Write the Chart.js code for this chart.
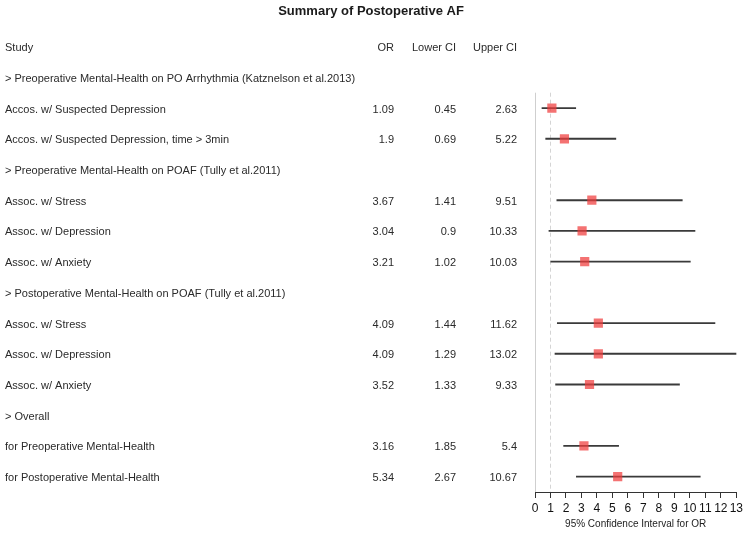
<!DOCTYPE html>
<html>
<head>
<meta charset="utf-8">
<script src="https://cdn.jsdelivr.net/npm/chart.js@4"></script>
<style>
  html, body { margin: 0; padding: 0; background: #fff; }
  #wrap { width: 746px; height: 533px; position: relative; }
</style>
</head>
<body>
<div id="wrap"><canvas id="forestChart"></canvas></div>
<script>
// rows of the forest plot, top to bottom
const studies = [
  '> Preoperative Mental-Health on PO Arrhythmia (Katznelson et al.2013)',
  'Accos. w/ Suspected Depression',
  'Accos. w/ Suspected Depression, time > 3min',
  '> Preoperative Mental-Health on POAF (Tully et al.2011)',
  'Assoc. w/ Stress',
  'Assoc. w/ Depression',
  'Assoc. w/ Anxiety',
  '> Postoperative Mental-Health on POAF (Tully et al.2011)',
  'Assoc. w/ Stress',
  'Assoc. w/ Depression',
  'Assoc. w/ Anxiety',
  '> Overall',
  'for Preoperative Mental-Health',
  'for Postoperative Mental-Health'
];
const oddsRatio = [null, 1.09, 1.9, null, 3.67, 3.04, 3.21, null, 4.09, 4.09, 3.52, null, 3.16, 5.34];
const lowerCI   = [null, 0.45, 0.69, null, 1.41, 0.9, 1.02, null, 1.44, 1.29, 1.33, null, 1.85, 2.67];
const upperCI   = [null, 2.63, 5.22, null, 9.51, 10.33, 10.03, null, 11.62, 13.02, 9.33, null, 5.4, 10.67];
const headers = ['Study', 'OR', 'Lower CI', 'Upper CI'];
const xTicks = [0, 1, 2, 3, 4, 5, 6, 7, 8, 9, 10, 11, 12, 13];

const FONT = '"Liberation Sans", Arial, sans-serif';

// table text + reference lines
const tablePlugin = {
  id: 'tableText',
  beforeDatasetsDraw(chart) {
    const { ctx, scales: { x, y }, chartArea } = chart;
    const step = y.getPixelForValue(1) - y.getPixelForValue(0);
    ctx.save();
    // solid line at 0, dashed at 1
    const top = y.getPixelForValue(0) + step / 2;
    const bottom = chartArea.bottom;
    ctx.lineWidth = 1;
    ctx.strokeStyle = '#cfcfcf';
    ctx.beginPath();
    ctx.moveTo(Math.round(x.getPixelForValue(0)) + 0.5, top);
    ctx.lineTo(Math.round(x.getPixelForValue(0)) + 0.5, bottom);
    ctx.stroke();
    ctx.setLineDash([4, 3]);
    ctx.strokeStyle = '#d4d4d4';
    ctx.beginPath();
    ctx.moveTo(Math.round(x.getPixelForValue(1)) + 0.5, top);
    ctx.lineTo(Math.round(x.getPixelForValue(1)) + 0.5, bottom);
    ctx.stroke();
    ctx.restore();
  },
  afterDraw(chart) {
    const { ctx, scales: { y } } = chart;
    const step = y.getPixelForValue(1) - y.getPixelForValue(0);
    const dy = 1.5; // baseline nudge
    ctx.save();
    ctx.fillStyle = '#1a1a1a';
    ctx.textBaseline = 'middle';
    ctx.font = 'bold 13px ' + FONT;
    ctx.textAlign = 'center';
    ctx.fillText('Summary of Postoperative AF', 371, 11);

    ctx.fillStyle = '#2a2a2a';
    ctx.font = '11px ' + FONT;
    const headY = y.getPixelForValue(0) - step + dy;
    ctx.textAlign = 'left';
    ctx.fillText(headers[0], 5, headY);
    ctx.textAlign = 'right';
    ctx.fillText(headers[1], 394, headY);
    ctx.fillText(headers[2], 456, headY);
    ctx.fillText(headers[3], 517, headY);

    studies.forEach((s, i) => {
      const py = y.getPixelForValue(i) + dy;
      ctx.textAlign = 'left';
      ctx.fillText(s, 5, py);
      if (oddsRatio[i] != null) {
        ctx.textAlign = 'right';
        ctx.fillText(String(oddsRatio[i]), 394, py);
        ctx.fillText(String(lowerCI[i]), 456, py);
        ctx.fillText(String(upperCI[i]), 517, py);
      }
    });
    ctx.restore();
  }
};

const ctx = document.getElementById('forestChart').getContext('2d');

new Chart(ctx, {
  data: {
    labels: studies,
    datasets: [
      {
        type: 'bar',
        data: studies.map((_, i) => lowerCI[i] == null ? null : [lowerCI[i], upperCI[i]]),
        backgroundColor: '#3a3a3a',
        barThickness: 1.2,
        order: 2
      },
      {
        type: 'line',
        data: oddsRatio,
        showLine: false,
        pointStyle: 'rect',
        pointRadius: 6.5,
        pointBackgroundColor: 'rgba(240,60,60,0.72)',
        pointBorderColor: 'rgba(240,60,60,0.72)',
        pointBorderWidth: 0,
        order: 1
      }
    ]
  },
  options: {
    indexAxis: 'y',
    responsive: true,
    maintainAspectRatio: false,
    animation: false,
    layout: {
      padding: { left: 535, right: 9, top: 62, bottom: 0 }
    },
    plugins: {
      legend: { display: false },
      tooltip: { enabled: false },
      title: { display: false }
    },
    scales: {
      y: {
        type: 'category',
        display: false,
        offset: true
      },
      x: {
        type: 'linear',
        min: xTicks[0],
        max: xTicks[xTicks.length - 1],
        afterBuildTicks(scale) {
          scale.ticks = xTicks.map(v => ({ value: v }));
        },
        afterFit(scale) {
          scale.height = 41;
        },
        grid: {
          drawOnChartArea: false,
          drawTicks: true,
          tickLength: 6,
          color: '#333'
        },
        border: { display: true, color: '#333' },
        ticks: {
          color: '#111',
          padding: 3,
          autoSkip: false,
          maxRotation: 0,
          font: { family: FONT, size: 12 }
        },
        title: {
          display: true,
          text: '95% Confidence Interval for OR',
          color: '#222',
          padding: { top: 0, bottom: 3 },
          font: { family: FONT, size: 10 }
        }
      }
    }
  },
  plugins: [tablePlugin]
});
</script>
</body>
</html>
